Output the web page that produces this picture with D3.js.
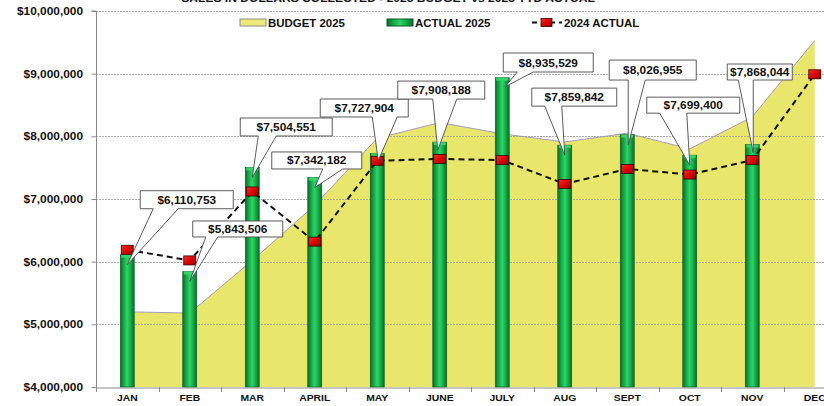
<!DOCTYPE html>
<html><head><meta charset="utf-8">
<script src="https://cdn.jsdelivr.net/npm/d3@7"></script>
<style>
body{margin:0;background:#fff;overflow:hidden}
svg{display:block}
text{font-family:"Liberation Sans",Arial,sans-serif;font-weight:bold;fill:#111}
</style>
</head><body>
<svg id="c" width="824" height="406"></svg>
<script>
// ---------- DATA ----------
const months = ["JAN","FEB","MAR","APRIL","MAY","JUNE","JULY","AUG","SEPT","OCT","NOV","DEC"];
const budget2025 = [5200000,5180000,6020000,6900000,7970000,8220000,8040000,7910000,8050000,7800000,8310000,9530000];
const actual2025 = [6110753,5843506,7504551,7342182,7727904,7908188,8935529,7859842,8026955,7699400,7868044,null];
const actual2024 = [6190000,6020000,7120000,6320000,7610000,7640000,7620000,7240000,7480000,7390000,7620000,8990000];
const yTicks = [4000000,5000000,6000000,7000000,8000000,9000000,10000000];
const seriesNames = ["BUDGET 2025","ACTUAL 2025","2024 ACTUAL"];
const chartTitle = "SALES IN DOLLARS COLLECTED - 2025 BUDGET vs 2025 YTD ACTUAL";

// ---------- LAYOUT (callout offsets relative to bar top, px) ----------
const calloutLayout = [
  {dx:13, dy:-64, w:93, h:18, t0:26, t1:51, tx:0, ty:10},
  {dx:3,  dy:-50.5, w:90, h:16, t0:16, t1:28, tx:0, ty:10},
  {dx:-12,dy:-49.4, w:92, h:18, t0:6, t1:24, tx:0, ty:10},
  {dx:-43,dy:-25.6, w:90, h:17, t0:8, t1:28, tx:0, ty:10},
  {dx:-57,dy:-54.4, w:88, h:18, t0:-5, t1:20, tx:1, ty:7},
  {dx:-42,dy:-61, w:87, h:18, t0:-7, t1:17, tx:-2, ty:8},
  {dx:1,  dy:-24.7, w:90, h:19, t0:15, t1:31, tx:3, ty:9},
  {dx:-33,dy:-57, w:85, h:18, t0:-20, t1:-3, tx:0, ty:10},
  {dx:-18,dy:-74.6, w:87, h:20, t0:1, t1:18, tx:1, ty:10},
  {dx:-43,dy:-58, w:93, h:16, t0:-30, t1:-3, tx:0, ty:10},
  {dx:-25,dy:-80.6, w:65, h:16, t0:-14, t1:1, tx:1, ty:8}
];

const svg = d3.select("#c");
const W = 824, H = 406;
const plot = {left:96, right:846, top:11, bottom:387};

const x = d3.scaleBand().domain(months).range([plot.left, plot.right]).padding(0);
const y = d3.scaleLinear().domain([4000000,10000000]).range([plot.bottom, plot.top]);
const cx = m => x(m) + x.bandwidth()/2;
const fmt = d3.format("$,.0f");

function stext(g, str, px, py, size, anchor, sx){
  return g.append("text")
    .attr("transform", `translate(${px},${py}) scale(${sx||1.1},1)`)
    .attr("text-anchor", anchor||"start")
    .style("font-size", size+"px")
    .text(str);
}

// defs
const defs = svg.append("defs");
const gBar = defs.append("linearGradient").attr("id","barG").attr("x1","0").attr("x2","1").attr("y1","0").attr("y2","0");
[[0,"#0a6a2a"],[0.25,"#14aa46"],[0.5,"#2fd466"],[0.75,"#14aa46"],[1,"#0a6a2a"]].forEach(s=>gBar.append("stop").attr("offset",s[0]).attr("stop-color",s[1]));
const gMk = defs.append("linearGradient").attr("id","mkG").attr("x1","0").attr("x2","1").attr("y1","0").attr("y2","1");
[[0,"#ff2a2a"],[0.6,"#d40000"],[1,"#8a0000"]].forEach(s=>gMk.append("stop").attr("offset",s[0]).attr("stop-color",s[1]));

// title (clipped at the top, as in the reference)
stext(svg, chartTitle, 388, 1.5, 11, "middle", 1.1);

// area
const area = d3.area()
  .x((d,i)=>cx(months[i]))
  .y0(y(4000000))
  .y1(d=>y(d));
svg.append("path").datum(budget2025).attr("d", area).attr("fill","#e9e66c");
svg.append("path").datum(budget2025)
  .attr("d", d3.line().x((d,i)=>cx(months[i])).y(d=>y(d)))
  .attr("fill","none").attr("stroke","#a79bbd").attr("stroke-width",1);

// gridlines
svg.append("g").selectAll("line").data(yTicks.slice(1)).join("line")
  .attr("x1", plot.left).attr("x2", W)
  .attr("y1", d=>Math.round(y(d))+0.5).attr("y2", d=>Math.round(y(d))+0.5)
  .attr("stroke","#9a9a9a").attr("stroke-width",0.8).attr("stroke-dasharray","2,1");

// y axis
const yAxis = d3.axisLeft(y).tickValues(yTicks).tickSize(5).tickFormat("");
const ya = svg.append("g").attr("transform",`translate(${plot.left+0.5},0)`).call(yAxis);
ya.selectAll("path,line").attr("stroke","#8a8a8a");
ya.select(".domain").attr("d",`M-5,${y(10000000)}H0V${y(4000000)}`);
yTicks.forEach(t=>stext(svg, fmt(t), 83, y(t)+4, 10.8, "end", 1.1));

// x axis
const xa = svg.append("g").attr("transform",`translate(0,${plot.bottom+0.5})`)
  .call(d3.axisBottom(x).tickSize(0).tickFormat(""));
xa.selectAll("path").attr("stroke","#8a8a8a");
svg.append("g").selectAll("line").data(months).join("line")
  .attr("x1",d=>Math.round(x(d))+0.5).attr("x2",d=>Math.round(x(d))+0.5)
  .attr("y1",plot.bottom).attr("y2",plot.bottom+5).attr("stroke","#8a8a8a");
months.forEach(m=>stext(svg, m, cx(m), 401, 9.6, "middle", 1.08));

// bars
const bw = 14;
const bars = svg.append("g");
actual2025.forEach((v,i)=>{
  if(v==null) return;
  const bx = cx(months[i]) - bw/2;
  bars.append("rect").attr("x",bx).attr("y",y(v)).attr("width",bw).attr("height",y(4000000)-y(v))
    .attr("fill","url(#barG)").attr("stroke","#0b5a25").attr("stroke-width",0.6);
  bars.append("rect").attr("x",bx+1).attr("y",y(v)).attr("width",bw-2).attr("height",3)
    .attr("fill","#3ad670").attr("opacity",0.9);
});

// 2024 line
svg.append("path").datum(actual2024)
  .attr("d", d3.line().x((d,i)=>cx(months[i])).y(d=>y(d)))
  .attr("fill","none").attr("stroke","#111").attr("stroke-width",2).attr("stroke-dasharray","6,4");
svg.append("g").selectAll("rect").data(actual2024).join("rect")
  .attr("x",(d,i)=>cx(months[i])-6).attr("y",d=>y(d)-4.5)
  .attr("width",12).attr("height",9)
  .attr("fill","url(#mkG)").attr("stroke","#3a0000").attr("stroke-width",0.8);

// callouts
const cg = svg.append("g");
actual2025.forEach((v,i)=>{
  if(v==null) return;
  const L = calloutLayout[i];
  const ax = cx(months[i]), ay = y(v);
  const l = ax+L.dx, t = ay+L.dy, r = l+L.w, b = t+L.h;
  const p = `M${l},${t}H${r}V${b}H${ax+L.t1}L${ax+L.tx},${ay+L.ty}L${ax+L.t0},${b}H${l}Z`;
  cg.append("path").attr("d",p).attr("fill","#fff").attr("stroke","#4a4a4a").attr("stroke-width",0.9);
  stext(cg, fmt(v), l+L.w/2, t+L.h/2+4, 10.6, "middle", 1.12);
});

// legend
const lg = svg.append("g");
lg.append("rect").attr("x",240).attr("y",19).attr("width",26).attr("height",7)
  .attr("fill","#eeea7a").attr("stroke","#8d8d8d").attr("stroke-width",1);
stext(lg, seriesNames[0], 268, 26.5, 10.4, "start", 1.1);
lg.append("rect").attr("x",387).attr("y",19).attr("width",26).attr("height",7)
  .attr("fill","url(#barG)").attr("stroke","#0b5a25").attr("stroke-width",1);
stext(lg, seriesNames[1], 415, 26.5, 10.4, "start", 1.1);
lg.append("line").attr("x1",532).attr("x2",562).attr("y1",22.5).attr("y2",22.5)
  .attr("stroke","#111").attr("stroke-width",2).attr("stroke-dasharray","5,4");
lg.append("rect").attr("x",541).attr("y",18.5).attr("width",11).attr("height",8)
  .attr("fill","url(#mkG)").attr("stroke","#3a0000").attr("stroke-width",0.8);
stext(lg, seriesNames[2], 564, 26.5, 10.4, "start", 1.1);
</script>
</body></html>
